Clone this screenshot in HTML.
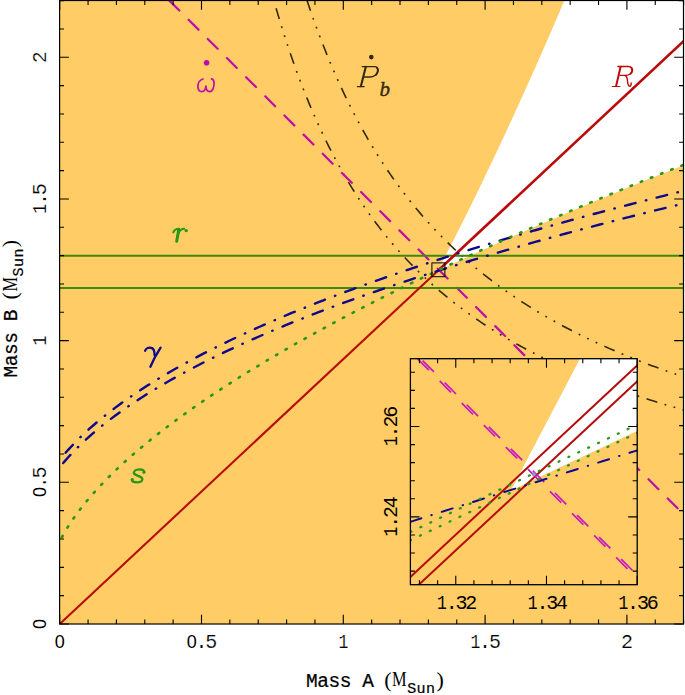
<!DOCTYPE html>
<html><head><meta charset="utf-8"><title>Mass-mass diagram</title>
<style>
html,body{margin:0;padding:0;background:#fff;}
body{width:685px;height:695px;overflow:hidden;}
svg{display:block;}
text{font-family:"Liberation Sans",sans-serif;}
.d{font-family:"Liberation Mono",monospace;font-size:20px;text-anchor:middle;fill:#000;stroke:#fff;stroke-width:0.18px;}
.z{font-family:"Liberation Sans",sans-serif;font-size:18px;text-anchor:middle;fill:#000;}
.o{stroke:none !important;}
.mono{font-family:"Liberation Mono",monospace;stroke:#000;stroke-width:0.22px;}
.ser{font-family:"Liberation Serif",serif;}
</style></head><body>
<svg width="685" height="695" viewBox="0 0 685 695">
<defs>
<clipPath id="cm"><rect x="59.6" y="0.5" width="623.9" height="623.5"/></clipPath>
<clipPath id="ci"><rect x="410.4" y="358.7" width="226.80000000000007" height="226.00000000000006"/></clipPath>
</defs>
<rect x="0" y="0" width="685" height="695" fill="#fff"/>
<!-- main plot -->
<g clip-path="url(#cm)">
<rect x="59.6" y="0.5" width="623.9" height="623.5" fill="#ffcc66"/>
<path d="M437.49 271.00 L439.85 266.49 L442.21 261.99 L444.55 257.48 L446.88 252.97 L449.20 248.47 L451.51 243.96 L453.81 239.46 L456.10 234.95 L458.38 230.44 L460.65 225.94 L462.92 221.43 L465.17 216.92 L467.41 212.42 L469.64 207.91 L471.87 203.41 L474.08 198.90 L476.29 194.39 L478.49 189.89 L480.67 185.38 L482.85 180.88 L485.03 176.37 L487.19 171.86 L489.35 167.36 L491.50 162.85 L493.64 158.34 L495.77 153.84 L497.89 149.33 L500.01 144.83 L502.12 140.32 L504.22 135.81 L506.32 131.31 L508.41 126.80 L510.49 122.30 L512.56 117.79 L514.63 113.28 L516.69 108.78 L518.74 104.27 L520.79 99.76 L522.83 95.26 L524.86 90.75 L526.89 86.25 L528.91 81.74 L530.93 77.23 L532.94 72.73 L534.94 68.22 L536.93 63.72 L538.92 59.21 L540.91 54.70 L542.89 50.20 L544.86 45.69 L546.83 41.19 L548.79 36.68 L550.74 32.17 L552.69 27.67 L554.64 23.16 L556.58 18.65 L558.51 14.15 L560.44 9.64 L562.36 5.14 L564.28 0.63 L683.62 0.63 L683.62 165.27 L679.52 166.88 L675.42 168.50 L671.31 170.13 L667.21 171.76 L663.11 173.39 L659.01 175.03 L654.90 176.67 L650.80 178.31 L646.70 179.96 L642.60 181.62 L638.50 183.28 L634.39 184.94 L630.29 186.61 L626.19 188.28 L622.09 189.95 L617.98 191.64 L613.88 193.32 L609.78 195.01 L605.68 196.71 L601.58 198.41 L597.47 200.11 L593.37 201.82 L589.27 203.53 L585.17 205.25 L581.07 206.98 L576.96 208.71 L572.86 210.44 L568.76 212.18 L564.66 213.92 L560.55 215.67 L556.45 217.43 L552.35 219.19 L548.25 220.96 L544.15 222.73 L540.04 224.51 L535.94 226.29 L531.84 228.08 L527.74 229.87 L523.63 231.68 L519.53 233.48 L515.43 235.29 L511.33 237.11 L507.23 238.94 L503.12 240.77 L499.02 242.61 L494.92 244.45 L490.82 246.30 L486.71 248.16 L482.61 250.02 L478.51 251.90 L474.41 253.77 L470.31 255.66 L466.20 257.55 L462.10 259.45 L458.00 261.35 L453.90 263.27 L449.79 265.19 L445.69 267.12 L441.59 269.05 L437.49 271.00 Z" fill="#fff"/>
<!-- Pb dot -->
<path d="M270.98 -9.96 L273.12 -2.23 L275.25 5.30 L277.38 12.64 L279.52 19.81 L281.65 26.79 L283.79 33.61 L285.92 40.26 L288.05 46.76 L290.19 53.10 L292.32 59.30 L294.46 65.35 L296.59 71.26 L298.73 77.04 L300.86 82.70 L302.99 88.22 L305.13 93.62 L307.26 98.91 L309.40 104.08 L311.53 109.14 L313.66 114.10 L315.80 118.95 L317.93 123.69 L320.07 128.34 L322.20 132.90 L324.33 137.36 L326.47 141.74 L328.60 146.02 L330.74 150.23 L332.87 154.35 L335.00 158.39 L337.14 162.35 L339.27 166.24 L341.41 170.05 L343.54 173.79 L345.68 177.46 L347.81 181.07 L349.94 184.61 L352.08 188.08 L354.21 191.50 L356.35 194.85 L358.48 198.14 L360.61 201.37 L362.75 204.55 L364.88 207.68 L367.02 210.75 L369.15 213.77 L371.28 216.73 L373.42 219.65 L375.55 222.52 L377.69 225.34 L379.82 228.12 L381.95 230.85 L384.09 233.54 L386.22 236.18 L388.36 238.79 L390.49 241.35 L392.63 243.87 L394.76 246.35 L396.89 248.80 L399.03 251.21 L401.16 253.58 L403.30 255.91 L405.43 258.21 L407.56 260.48 L409.70 262.72 L411.83 264.92 L413.97 267.09 L416.10 269.22 L418.23 271.33 L420.37 273.41 L422.50 275.46 L424.64 277.48 L426.77 279.47 L428.90 281.43 L431.04 283.37 L433.17 285.28 L435.31 287.17 L437.44 289.03 L439.58 290.87 L441.71 292.68 L443.84 294.46 L445.98 296.23 L448.11 297.97 L450.25 299.69 L452.38 301.39 L454.51 303.06 L456.65 304.72 L458.78 306.35 L460.92 307.96 L463.05 309.56 L465.18 311.13 L467.32 312.68 L469.45 314.22 L471.59 315.74 L473.72 317.24 L475.85 318.72 L477.99 320.18 L480.12 321.63 L482.26 323.06 L484.39 324.47 L486.53 325.87 L488.66 327.25 L490.79 328.61 L492.93 329.96 L495.06 331.30 L497.20 332.62 L499.33 333.92 L501.46 335.21 L503.60 336.49 L505.73 337.75 L507.87 339.00 L510.00 340.23 L512.13 341.45 L514.27 342.66 L516.40 343.86 L518.54 345.04 L520.67 346.21 L522.80 347.37 L524.94 348.52 L527.07 349.65 L529.21 350.78 L531.34 351.89 L533.48 352.99 L535.61 354.08 L537.74 355.16 L539.88 356.22 L542.01 357.28 L544.15 358.33 L546.28 359.36 L548.41 360.39 L550.55 361.41 L552.68 362.41 L554.82 363.41 L556.95 364.40 L559.08 365.38 L561.22 366.34 L563.35 367.30 L565.49 368.25 L567.62 369.20 L569.75 370.13 L571.89 371.05 L574.02 371.97 L576.16 372.88 L578.29 373.78 L580.43 374.67 L582.56 375.55 L584.69 376.43 L586.83 377.30 L588.96 378.16 L591.10 379.01 L593.23 379.85 L595.36 380.69 L597.50 381.52 L599.63 382.35 L601.77 383.16 L603.90 383.97 L606.03 384.77 L608.17 385.57 L610.30 386.36 L612.44 387.14 L614.57 387.92 L616.70 388.69 L618.84 389.45 L620.97 390.21 L623.11 390.96 L625.24 391.70 L627.38 392.44 L629.51 393.17 L631.64 393.90 L633.78 394.62 L635.91 395.33 L638.05 396.04 L640.18 396.75 L642.31 397.45 L644.45 398.14 L646.58 398.83 L648.72 399.51 L650.85 400.19 L652.98 400.86 L655.12 401.53 L657.25 402.19 L659.39 402.84 L661.52 403.50 L663.65 404.14 L665.79 404.78 L667.92 405.42 L670.06 406.05 L672.19 406.68 L674.33 407.31 L676.46 407.92 L678.59 408.54 L680.73 409.15 L682.86 409.75 L685.00 410.35 L687.13 410.95 L689.26 411.54 L691.40 412.13 L693.53 412.72 L695.67 413.30 L697.80 413.87" stroke="#32280f" stroke-width="1.6" fill="none" stroke-dasharray="11.2 7.6 1.8 7.6 1.8 7.6 1.8 7.8" stroke-dashoffset="-18.9"/>
<path d="M303.60 -9.96 L305.57 -3.90 L307.54 2.04 L309.51 7.86 L311.48 13.56 L313.45 19.15 L315.42 24.63 L317.39 30.01 L319.36 35.28 L321.34 40.45 L323.31 45.52 L325.28 50.50 L327.25 55.39 L329.22 60.18 L331.19 64.89 L333.16 69.51 L335.13 74.05 L337.10 78.51 L339.07 82.88 L341.05 87.18 L343.02 91.41 L344.99 95.56 L346.96 99.64 L348.93 103.65 L350.90 107.59 L352.87 111.47 L354.84 115.28 L356.81 119.03 L358.78 122.72 L360.76 126.34 L362.73 129.91 L364.70 133.42 L366.67 136.87 L368.64 140.27 L370.61 143.61 L372.58 146.91 L374.55 150.15 L376.52 153.34 L378.49 156.48 L380.47 159.58 L382.44 162.63 L384.41 165.63 L386.38 168.58 L388.35 171.50 L390.32 174.37 L392.29 177.20 L394.26 179.99 L396.23 182.73 L398.20 185.44 L400.18 188.11 L402.15 190.74 L404.12 193.34 L406.09 195.90 L408.06 198.42 L410.03 200.91 L412.00 203.37 L413.97 205.79 L415.94 208.18 L417.92 210.54 L419.89 212.86 L421.86 215.16 L423.83 217.42 L425.80 219.66 L427.77 221.86 L429.74 224.04 L431.71 226.19 L433.68 228.32 L435.65 230.41 L437.63 232.48 L439.60 234.53 L441.57 236.54 L443.54 238.54 L445.51 240.51 L447.48 242.45 L449.45 244.37 L451.42 246.27 L453.39 248.15 L455.36 250.00 L457.34 251.83 L459.31 253.64 L461.28 255.43 L463.25 257.20 L465.22 258.95 L467.19 260.68 L469.16 262.38 L471.13 264.07 L473.10 265.74 L475.07 267.39 L477.05 269.03 L479.02 270.64 L480.99 272.24 L482.96 273.82 L484.93 275.38 L486.90 276.92 L488.87 278.45 L490.84 279.96 L492.81 281.46 L494.78 282.94 L496.76 284.40 L498.73 285.85 L500.70 287.29 L502.67 288.71 L504.64 290.11 L506.61 291.50 L508.58 292.88 L510.55 294.24 L512.52 295.59 L514.50 296.92 L516.47 298.24 L518.44 299.55 L520.41 300.85 L522.38 302.13 L524.35 303.40 L526.32 304.66 L528.29 305.90 L530.26 307.14 L532.23 308.36 L534.21 309.57 L536.18 310.77 L538.15 311.96 L540.12 313.13 L542.09 314.30 L544.06 315.45 L546.03 316.60 L548.00 317.73 L549.97 318.85 L551.94 319.96 L553.92 321.07 L555.89 322.16 L557.86 323.24 L559.83 324.32 L561.80 325.38 L563.77 326.43 L565.74 327.48 L567.71 328.52 L569.68 329.54 L571.65 330.56 L573.63 331.57 L575.60 332.57 L577.57 333.56 L579.54 334.55 L581.51 335.52 L583.48 336.49 L585.45 337.45 L587.42 338.40 L589.39 339.34 L591.36 340.28 L593.34 341.20 L595.31 342.12 L597.28 343.04 L599.25 343.94 L601.22 344.84 L603.19 345.73 L605.16 346.61 L607.13 347.49 L609.10 348.36 L611.08 349.22 L613.05 350.08 L615.02 350.93 L616.99 351.77 L618.96 352.60 L620.93 353.43 L622.90 354.26 L624.87 355.07 L626.84 355.88 L628.81 356.69 L630.79 357.49 L632.76 358.28 L634.73 359.06 L636.70 359.85 L638.67 360.62 L640.64 361.39 L642.61 362.15 L644.58 362.91 L646.55 363.66 L648.52 364.41 L650.50 365.15 L652.47 365.89 L654.44 366.62 L656.41 367.34 L658.38 368.06 L660.35 368.78 L662.32 369.49 L664.29 370.19 L666.26 370.89 L668.23 371.59 L670.21 372.28 L672.18 372.96 L674.15 373.64 L676.12 374.32 L678.09 374.99 L680.06 375.66 L682.03 376.32 L684.00 376.98 L685.97 377.63 L687.94 378.28 L689.92 378.93 L691.89 379.57 L693.86 380.20 L695.83 380.83 L697.80 381.46" stroke="#32280f" stroke-width="1.6" fill="none" stroke-dasharray="11.2 7.6 1.8 7.6 1.8 7.6 1.8 7.8" stroke-dashoffset="-10.6"/>
<!-- omega dot -->
<path d="M158.96 -9.85 L697.80 528.51" stroke="#be0ca8" stroke-width="2.2" fill="none" stroke-linecap="round" stroke-dasharray="14 13.09" stroke-dashoffset="-14.8"/>
<!-- r lines -->
<path d="M59.6 255.8 H683.5 M59.6 288.0 H683.5" stroke="#3c8a08" stroke-width="2.0" fill="none"/>
<!-- R -->
<path d="M59.70 624.00 L441.14 267.66" stroke="#b60b06" stroke-width="2.05" fill="none"/>
<path d="M439.72 268.98 L711.98 14.65" stroke="#ba0a08" stroke-width="2.65" fill="none"/>
<!-- gamma -->
<path d="M59.70 467.25 L63.95 462.11 L68.21 457.27 L72.46 452.69 L76.72 448.34 L80.97 444.18 L85.22 440.19 L89.48 436.35 L93.73 432.65 L97.99 429.07 L102.24 425.61 L106.49 422.24 L110.75 418.98 L115.00 415.79 L119.26 412.70 L123.51 409.67 L127.76 406.72 L132.02 403.83 L136.27 401.01 L140.53 398.24 L144.78 395.53 L149.03 392.88 L153.29 390.27 L157.54 387.71 L161.80 385.19 L166.05 382.72 L170.30 380.28 L174.56 377.89 L178.81 375.53 L183.07 373.21 L187.32 370.92 L191.57 368.67 L195.83 366.45 L200.08 364.25 L204.34 362.09 L208.59 359.96 L212.84 357.85 L217.10 355.77 L221.35 353.71 L225.61 351.68 L229.86 349.68 L234.11 347.69 L238.37 345.73 L242.62 343.79 L246.88 341.87 L251.13 339.97 L255.38 338.09 L259.64 336.23 L263.89 334.39 L268.15 332.57 L272.40 330.77 L276.65 328.98 L280.91 327.21 L285.16 325.45 L289.42 323.72 L293.67 321.99 L297.92 320.29 L302.18 318.59 L306.43 316.92 L310.69 315.25 L314.94 313.60 L319.19 311.97 L323.45 310.34 L327.70 308.73 L331.96 307.14 L336.21 305.55 L340.46 303.98 L344.72 302.42 L348.97 300.87 L353.23 299.33 L357.48 297.81 L361.73 296.29 L365.99 294.79 L370.24 293.30 L374.50 291.81 L378.75 290.34 L383.00 288.88 L387.26 287.43 L391.51 285.98 L395.77 284.55 L400.02 283.13 L404.27 281.71 L408.53 280.30 L412.78 278.91 L417.04 277.52 L421.29 276.14 L425.54 274.77 L429.80 273.41 L434.05 272.05 L438.31 270.70 L442.56 269.37 L446.81 268.03 L451.07 266.71 L455.32 265.40 L459.58 264.09 L463.83 262.79 L468.08 261.49 L472.34 260.21 L476.59 258.93 L480.85 257.65 L485.10 256.39 L489.35 255.13 L493.61 253.88 L497.86 252.63 L502.12 251.39 L506.37 250.16 L510.62 248.93 L514.88 247.71 L519.13 246.50 L523.39 245.29 L527.64 244.09 L531.89 242.89 L536.15 241.70 L540.40 240.52 L544.66 239.34 L548.91 238.16 L553.16 236.99 L557.42 235.83 L561.67 234.67 L565.93 233.52 L570.18 232.38 L574.43 231.23 L578.69 230.10 L582.94 228.97 L587.20 227.84 L591.45 226.72 L595.70 225.60 L599.96 224.49 L604.21 223.39 L608.47 222.28 L612.72 221.19 L616.97 220.09 L621.23 219.01 L625.48 217.92 L629.74 216.84 L633.99 215.77 L638.24 214.70 L642.50 213.63 L646.75 212.57 L651.01 211.51 L655.26 210.46 L659.51 209.41 L663.77 208.37 L668.02 207.33 L672.28 206.29 L676.53 205.26 L680.78 204.23 L685.04 203.20 L689.29 202.18 L693.55 201.17 L697.80 200.15" stroke="#10088c" stroke-width="2.4" fill="none" stroke-linecap="round" stroke-dasharray="10.8 10.625 0.5 10.625" stroke-dashoffset="-5.55"/>
<path d="M59.70 459.83 L63.95 454.68 L68.21 449.83 L72.46 445.22 L76.72 440.83 L80.97 436.64 L85.22 432.61 L89.48 428.72 L93.73 424.98 L97.99 421.35 L102.24 417.84 L106.49 414.43 L110.75 411.12 L115.00 407.89 L119.26 404.74 L123.51 401.67 L127.76 398.66 L132.02 395.73 L136.27 392.86 L140.53 390.04 L144.78 387.28 L149.03 384.58 L153.29 381.92 L157.54 379.31 L161.80 376.75 L166.05 374.23 L170.30 371.75 L174.56 369.30 L178.81 366.90 L183.07 364.53 L187.32 362.20 L191.57 359.90 L195.83 357.63 L200.08 355.40 L204.34 353.19 L208.59 351.01 L212.84 348.86 L217.10 346.73 L221.35 344.63 L225.61 342.56 L229.86 340.51 L234.11 338.48 L238.37 336.48 L242.62 334.50 L246.88 332.54 L251.13 330.59 L255.38 328.67 L259.64 326.77 L263.89 324.89 L268.15 323.03 L272.40 321.18 L276.65 319.36 L280.91 317.55 L285.16 315.75 L289.42 313.97 L293.67 312.21 L297.92 310.47 L302.18 308.74 L306.43 307.02 L310.69 305.32 L314.94 303.63 L319.19 301.96 L323.45 300.30 L327.70 298.65 L331.96 297.01 L336.21 295.39 L340.46 293.78 L344.72 292.19 L348.97 290.60 L353.23 289.03 L357.48 287.47 L361.73 285.92 L365.99 284.38 L370.24 282.85 L374.50 281.33 L378.75 279.82 L383.00 278.32 L387.26 276.84 L391.51 275.36 L395.77 273.89 L400.02 272.43 L404.27 270.98 L408.53 269.54 L412.78 268.11 L417.04 266.69 L421.29 265.28 L425.54 263.87 L429.80 262.47 L434.05 261.09 L438.31 259.71 L442.56 258.34 L446.81 256.97 L451.07 255.62 L455.32 254.27 L459.58 252.93 L463.83 251.59 L468.08 250.27 L472.34 248.95 L476.59 247.64 L480.85 246.33 L485.10 245.04 L489.35 243.75 L493.61 242.46 L497.86 241.19 L502.12 239.92 L506.37 238.65 L510.62 237.40 L514.88 236.14 L519.13 234.90 L523.39 233.66 L527.64 232.43 L531.89 231.20 L536.15 229.98 L540.40 228.77 L544.66 227.56 L548.91 226.35 L553.16 225.16 L557.42 223.96 L561.67 222.78 L565.93 221.60 L570.18 220.42 L574.43 219.25 L578.69 218.08 L582.94 216.92 L587.20 215.77 L591.45 214.62 L595.70 213.47 L599.96 212.33 L604.21 211.20 L608.47 210.07 L612.72 208.94 L616.97 207.82 L621.23 206.71 L625.48 205.60 L629.74 204.49 L633.99 203.39 L638.24 202.29 L642.50 201.19 L646.75 200.11 L651.01 199.02 L655.26 197.94 L659.51 196.86 L663.77 195.79 L668.02 194.72 L672.28 193.66 L676.53 192.60 L680.78 191.55 L685.04 190.49 L689.29 189.45 L693.55 188.40 L697.80 187.36" stroke="#10088c" stroke-width="2.4" fill="none" stroke-linecap="round" stroke-dasharray="10.8 10.625 0.5 10.625" stroke-dashoffset="-9.2"/>
<!-- s -->
<path d="M59.70 541.37 L63.95 533.44 L68.21 526.36 L72.46 519.89 L76.72 513.89 L80.97 508.25 L85.22 502.91 L89.48 497.82 L93.73 492.94 L97.99 488.25 L102.24 483.72 L106.49 479.34 L110.75 475.08 L115.00 470.95 L119.26 466.92 L123.51 462.99 L127.76 459.15 L132.02 455.39 L136.27 451.70 L140.53 448.09 L144.78 444.55 L149.03 441.07 L153.29 437.65 L157.54 434.28 L161.80 430.97 L166.05 427.71 L170.30 424.49 L174.56 421.32 L178.81 418.19 L183.07 415.10 L187.32 412.05 L191.57 409.04 L195.83 406.06 L200.08 403.12 L204.34 400.21 L208.59 397.33 L212.84 394.48 L217.10 391.66 L221.35 388.87 L225.61 386.11 L229.86 383.37 L234.11 380.66 L238.37 377.97 L242.62 375.31 L246.88 372.67 L251.13 370.05 L255.38 367.45 L259.64 364.87 L263.89 362.32 L268.15 359.78 L272.40 357.27 L276.65 354.77 L280.91 352.29 L285.16 349.83 L289.42 347.38 L293.67 344.95 L297.92 342.54 L302.18 340.15 L306.43 337.77 L310.69 335.40 L314.94 333.05 L319.19 330.72 L323.45 328.40 L327.70 326.09 L331.96 323.80 L336.21 321.52 L340.46 319.25 L344.72 317.00 L348.97 314.76 L353.23 312.53 L357.48 310.31 L361.73 308.11 L365.99 305.91 L370.24 303.73 L374.50 301.56 L378.75 299.40 L383.00 297.25 L387.26 295.12 L391.51 292.99 L395.77 290.87 L400.02 288.76 L404.27 286.66 L408.53 284.58 L412.78 282.50 L417.04 280.43 L421.29 278.37 L425.54 276.32 L429.80 274.28 L434.05 272.24 L438.31 270.22 L442.56 268.20 L446.81 266.19 L451.07 264.20 L455.32 262.20 L459.58 260.22 L463.83 258.25 L468.08 256.28 L472.34 254.32 L476.59 252.37 L480.85 250.42 L485.10 248.48 L489.35 246.55 L493.61 244.63 L497.86 242.71 L502.12 240.80 L506.37 238.90 L510.62 237.01 L514.88 235.12 L519.13 233.24 L523.39 231.36 L527.64 229.49 L531.89 227.63 L536.15 225.77 L540.40 223.92 L544.66 222.08 L548.91 220.24 L553.16 218.41 L557.42 216.58 L561.67 214.76 L565.93 212.94 L570.18 211.14 L574.43 209.33 L578.69 207.53 L582.94 205.74 L587.20 203.95 L591.45 202.17 L595.70 200.40 L599.96 198.63 L604.21 196.86 L608.47 195.10 L612.72 193.34 L616.97 191.59 L621.23 189.85 L625.48 188.11 L629.74 186.37 L633.99 184.64 L638.24 182.91 L642.50 181.19 L646.75 179.48 L651.01 177.76 L655.26 176.06 L659.51 174.35 L663.77 172.66 L668.02 170.96 L672.28 169.27 L676.53 167.59 L680.78 165.91 L685.04 164.23 L689.29 162.56 L693.55 160.89 L697.80 159.22" stroke="#2a9614" stroke-width="2.6" fill="none" stroke-linecap="round" stroke-dasharray="1.5 9.422" stroke-dashoffset="-4.8"/>
<!-- little square -->
<rect x="431.9" y="262.9" width="13" height="13.8" fill="none" stroke="#000" stroke-width="1"/>
</g>
<path d="M59.70 624.00 v-9.30 M59.70 0.50 v9.30 M59.60 624.00 h9.30 M683.50 624.00 h-9.30 M88.06 624.00 v-4.40 M88.06 0.50 v4.40 M59.60 595.66 h4.40 M683.50 595.66 h-4.40 M116.42 624.00 v-4.40 M116.42 0.50 v4.40 M59.60 567.33 h4.40 M683.50 567.33 h-4.40 M144.78 624.00 v-4.40 M144.78 0.50 v4.40 M59.60 539.00 h4.40 M683.50 539.00 h-4.40 M173.14 624.00 v-4.40 M173.14 0.50 v4.40 M59.60 510.66 h4.40 M683.50 510.66 h-4.40 M201.50 624.00 v-9.30 M201.50 0.50 v9.30 M59.60 482.32 h9.30 M683.50 482.32 h-9.30 M229.86 624.00 v-4.40 M229.86 0.50 v4.40 M59.60 453.99 h4.40 M683.50 453.99 h-4.40 M258.22 624.00 v-4.40 M258.22 0.50 v4.40 M59.60 425.65 h4.40 M683.50 425.65 h-4.40 M286.58 624.00 v-4.40 M286.58 0.50 v4.40 M59.60 397.32 h4.40 M683.50 397.32 h-4.40 M314.94 624.00 v-4.40 M314.94 0.50 v4.40 M59.60 368.99 h4.40 M683.50 368.99 h-4.40 M343.30 624.00 v-9.30 M343.30 0.50 v9.30 M59.60 340.65 h9.30 M683.50 340.65 h-9.30 M371.66 624.00 v-4.40 M371.66 0.50 v4.40 M59.60 312.31 h4.40 M683.50 312.31 h-4.40 M400.02 624.00 v-4.40 M400.02 0.50 v4.40 M59.60 283.98 h4.40 M683.50 283.98 h-4.40 M428.38 624.00 v-4.40 M428.38 0.50 v4.40 M59.60 255.64 h4.40 M683.50 255.64 h-4.40 M456.74 624.00 v-4.40 M456.74 0.50 v4.40 M59.60 227.31 h4.40 M683.50 227.31 h-4.40 M485.10 624.00 v-9.30 M485.10 0.50 v9.30 M59.60 198.97 h9.30 M683.50 198.97 h-9.30 M513.46 624.00 v-4.40 M513.46 0.50 v4.40 M59.60 170.64 h4.40 M683.50 170.64 h-4.40 M541.82 624.00 v-4.40 M541.82 0.50 v4.40 M59.60 142.30 h4.40 M683.50 142.30 h-4.40 M570.18 624.00 v-4.40 M570.18 0.50 v4.40 M59.60 113.97 h4.40 M683.50 113.97 h-4.40 M598.54 624.00 v-4.40 M598.54 0.50 v4.40 M59.60 85.63 h4.40 M683.50 85.63 h-4.40 M626.90 624.00 v-9.30 M626.90 0.50 v9.30 M59.60 57.30 h9.30 M683.50 57.30 h-9.30 M655.26 624.00 v-4.40 M655.26 0.50 v4.40 M59.60 28.96 h4.40 M683.50 28.96 h-4.40 M683.62 624.00 v-4.40 M683.62 0.50 v4.40 M59.60 0.63 h4.40 M683.50 0.63 h-4.40" stroke="#000" stroke-width="1.1" fill="none"/>
<rect x="59.6" y="0.5" width="623.9" height="623.5" fill="none" stroke="#000" stroke-width="1.2"/>
<!-- inset -->
<g clip-path="url(#ci)">
<rect x="410.4" y="358.7" width="226.80000000000007" height="226.00000000000006" fill="#ffcc66"/>
<path d="M510.72 490.61 L512.48 487.28 L514.23 483.96 L515.99 480.63 L517.74 477.30 L519.49 473.97 L521.25 470.64 L523.00 467.31 L524.75 463.98 L526.51 460.66 L528.26 457.33 L530.01 454.00 L531.76 450.67 L533.51 447.34 L535.26 444.01 L537.01 440.68 L538.76 437.36 L540.51 434.03 L542.26 430.70 L544.01 427.37 L545.75 424.04 L547.50 420.71 L549.25 417.38 L551.00 414.06 L552.74 410.73 L554.49 407.40 L556.23 404.07 L557.98 400.74 L559.72 397.41 L561.47 394.08 L563.21 390.76 L564.96 387.43 L566.70 384.10 L568.44 380.77 L570.19 377.44 L571.93 374.11 L573.67 370.79 L575.41 367.46 L577.15 364.13 L578.89 360.80 L580.63 357.47 L582.37 354.14 L584.11 350.81 L585.85 347.49 L587.59 344.16 L589.33 340.83 L591.07 337.50 L592.80 334.17 L594.54 330.84 L596.28 327.51 L598.02 324.19 L599.75 320.86 L601.49 317.53 L603.22 314.20 L604.96 310.87 L606.69 307.54 L608.43 304.21 L610.16 300.89 L611.89 297.56 L613.63 294.23 L615.36 290.90 L682.56 290.90 L682.56 409.65 L679.70 411.00 L676.83 412.34 L673.97 413.68 L671.10 415.02 L668.24 416.37 L665.38 417.71 L662.51 419.06 L659.65 420.40 L656.78 421.74 L653.92 423.09 L651.06 424.43 L648.19 425.78 L645.33 427.12 L642.46 428.47 L639.60 429.81 L636.74 431.16 L633.87 432.51 L631.01 433.85 L628.14 435.20 L625.28 436.55 L622.42 437.89 L619.55 439.24 L616.69 440.59 L613.82 441.94 L610.96 443.28 L608.10 444.63 L605.23 445.98 L602.37 447.33 L599.51 448.68 L596.64 450.03 L593.78 451.38 L590.91 452.73 L588.05 454.08 L585.19 455.43 L582.32 456.78 L579.46 458.13 L576.59 459.48 L573.73 460.83 L570.87 462.18 L568.00 463.53 L565.14 464.88 L562.27 466.24 L559.41 467.59 L556.55 468.94 L553.68 470.29 L550.82 471.65 L547.95 473.00 L545.09 474.35 L542.23 475.71 L539.36 477.06 L536.50 478.41 L533.63 479.77 L530.77 481.12 L527.91 482.48 L525.04 483.83 L522.18 485.19 L519.31 486.54 L516.45 487.90 L513.59 489.26 L510.72 490.61 Z" fill="#fff"/>
<path d="M365.04 619.31 L682.56 323.03" stroke="#b40c0c" stroke-width="2" fill="none"/>
<path d="M365.04 634.73 L682.56 339.27" stroke="#b40c0c" stroke-width="2" fill="none"/>
<path d="M400 341.3 L660 601.3" stroke="#c818c0" stroke-width="1.7" fill="none" stroke-dasharray="16 15.2" stroke-dashoffset="-24.9"/>
<path d="M400 338.0 L660 598.0" stroke="#c818c0" stroke-width="1.7" fill="none" stroke-dasharray="16 15.2" stroke-dashoffset="-0.8"/>
<path d="M365.04 536.25 L380.92 531.18 L396.79 526.13 L412.67 521.08 L428.54 516.03 L444.42 511.00 L460.30 505.97 L476.17 500.95 L492.05 495.93 L507.92 490.92 L523.80 485.92 L539.68 480.93 L555.55 475.94 L571.43 470.96 L587.30 465.99 L603.18 461.02 L619.06 456.06 L634.93 451.11 L650.81 446.16 L666.68 441.22 L682.56 436.29" stroke="#10088c" stroke-width="2" fill="none" stroke-linecap="round" stroke-dasharray="11.4 10.45 0.5 10.45" stroke-dashoffset="-14.9"/>
<path d="M405.86 534.24 L419.70 527.65 L433.53 521.05 L447.37 514.47 L461.20 507.88 L475.04 501.31 L488.87 494.74 L502.71 488.17 L516.54 481.62 L530.38 475.06 L544.21 468.52 L558.05 461.97 L571.88 455.44 L585.72 448.91 L599.55 442.38 L613.39 435.86 L627.22 429.35 L641.06 422.84 L654.89 416.34 L668.73 409.84 L682.56 403.35" stroke="#2a9614" stroke-width="2.3" fill="none" stroke-linecap="round" stroke-dasharray="1 9.92" stroke-dashoffset="-5.2"/>
<path d="M405.86 542.45 L419.70 535.86 L433.53 529.27 L447.37 522.70 L461.20 516.12 L475.04 509.55 L488.87 502.99 L502.71 496.43 L516.54 489.88 L530.38 483.34 L544.21 476.80 L558.05 470.26 L571.88 463.73 L585.72 457.21 L599.55 450.69 L613.39 444.18 L627.22 437.67 L641.06 431.17 L654.89 424.68 L668.73 418.19 L682.56 411.70" stroke="#2a9614" stroke-width="2.3" fill="none" stroke-linecap="round" stroke-dasharray="1 9.92" stroke-dashoffset="-4.7"/>
<rect x="532.6" y="472.4" width="3" height="3.4" fill="#7d9fd6"/>
</g>
<path d="M419.47 584.70 v-4.50 M419.47 358.70 v4.50 M437.62 584.70 v-4.50 M437.62 358.70 v4.50 M455.76 584.70 v-9.00 M455.76 358.70 v9.00 M473.90 584.70 v-4.50 M473.90 358.70 v4.50 M492.05 584.70 v-4.50 M492.05 358.70 v4.50 M510.19 584.70 v-4.50 M510.19 358.70 v4.50 M528.34 584.70 v-4.50 M528.34 358.70 v4.50 M546.48 584.70 v-9.00 M546.48 358.70 v9.00 M564.62 584.70 v-4.50 M564.62 358.70 v4.50 M582.77 584.70 v-4.50 M582.77 358.70 v4.50 M600.91 584.70 v-4.50 M600.91 358.70 v4.50 M619.06 584.70 v-4.50 M619.06 358.70 v4.50 M637.20 584.70 v-9.00 M637.20 358.70 v9.00 M410.40 571.14 h4.50 M637.20 571.14 h-4.50 M410.40 553.06 h4.50 M637.20 553.06 h-4.50 M410.40 534.98 h4.50 M637.20 534.98 h-4.50 M410.40 516.90 h9.00 M637.20 516.90 h-9.00 M410.40 498.82 h4.50 M637.20 498.82 h-4.50 M410.40 480.74 h4.50 M637.20 480.74 h-4.50 M410.40 462.66 h4.50 M637.20 462.66 h-4.50 M410.40 444.58 h4.50 M637.20 444.58 h-4.50 M410.40 426.50 h9.00 M637.20 426.50 h-9.00 M410.40 408.42 h4.50 M637.20 408.42 h-4.50 M410.40 390.34 h4.50 M637.20 390.34 h-4.50 M410.40 372.26 h4.50 M637.20 372.26 h-4.50" stroke="#000" stroke-width="1.1" fill="none"/>
<rect x="410.4" y="358.7" width="226.80000000000007" height="226.00000000000006" fill="none" stroke="#000" stroke-width="1.3"/>
<!-- tick labels -->
<text class="z" transform="translate(59.70 648)">0</text><text class="z" transform="translate(191.70 648)">0</text><text class="d" transform="translate(201.50 648)">.</text><text class="d" transform="translate(211.30 648)">5</text><text class="d" transform="translate(343.30 648) scale(0.82 1)">1</text><text class="d" transform="translate(475.30 648) scale(0.82 1)">1</text><text class="d" transform="translate(485.10 648)">.</text><text class="d" transform="translate(494.90 648)">5</text><text class="d" transform="translate(626.90 648)">2</text>
<text class="z" transform="translate(46 624.00) rotate(-90)">0</text><text class="z" transform="translate(46 492.12) rotate(-90)">0</text><text class="d" transform="translate(46 482.32) rotate(-90)">.</text><text class="d" transform="translate(46 472.52) rotate(-90)">5</text><text class="d" transform="translate(46 340.65) rotate(-90) scale(0.82 1)">1</text><text class="d" transform="translate(46 208.77) rotate(-90) scale(0.82 1)">1</text><text class="d" transform="translate(46 198.97) rotate(-90)">.</text><text class="d" transform="translate(46 189.17) rotate(-90)">5</text><text class="d" transform="translate(46 57.30) rotate(-90)">2</text>
<text class="d o" transform="translate(441.86 609.2) scale(0.82 1)">1</text><text class="d o" transform="translate(451.66 609.2)">.</text><text class="d o" transform="translate(461.46 609.2)">3</text><text class="d o" transform="translate(471.26 609.2)">2</text><text class="d o" transform="translate(532.58 609.2) scale(0.82 1)">1</text><text class="d o" transform="translate(542.38 609.2)">.</text><text class="d o" transform="translate(552.18 609.2)">3</text><text class="d o" transform="translate(561.98 609.2)">4</text><text class="d o" transform="translate(623.30 609.2) scale(0.82 1)">1</text><text class="d o" transform="translate(633.10 609.2)">.</text><text class="d o" transform="translate(642.90 609.2)">3</text><text class="d o" transform="translate(652.70 609.2)">6</text>
<text class="d o" transform="translate(397.3 531.60) rotate(-90) scale(0.82 1)">1</text><text class="d o" transform="translate(397.3 521.80) rotate(-90)">.</text><text class="d o" transform="translate(397.3 512.00) rotate(-90)">2</text><text class="d o" transform="translate(397.3 502.20) rotate(-90)">4</text><text class="d o" transform="translate(397.3 441.20) rotate(-90) scale(0.82 1)">1</text><text class="d o" transform="translate(397.3 431.40) rotate(-90)">.</text><text class="d o" transform="translate(397.3 421.60) rotate(-90)">2</text><text class="d o" transform="translate(397.3 411.80) rotate(-90)">6</text>
<!-- axis titles -->
<g transform="translate(306 686.8)"><text class="mono" x="0" y="0" style="font-size:19.5px" textLength="68" lengthAdjust="spacing">Mass A</text><text class="ser" x="78.2" y="-0.3" style="font-size:22px">(</text><text class="ser" x="86" y="-0.4" style="font-size:20.4px" textLength="14.6" lengthAdjust="spacingAndGlyphs">M</text><text class="mono" x="101.2" y="6.4" style="font-size:15px" textLength="27.8" lengthAdjust="spacing">Sun</text><text class="ser" x="130.4" y="-0.3" style="font-size:22px">)</text></g>
<g transform="translate(16.9 377.6) rotate(-90)"><text class="mono" x="0" y="0" style="font-size:19.5px" textLength="68" lengthAdjust="spacing">Mass B</text><text class="ser" x="78.2" y="-0.3" style="font-size:22px">(</text><text class="ser" x="86" y="-0.4" style="font-size:20.4px" textLength="14.6" lengthAdjust="spacingAndGlyphs">M</text><text class="mono" x="101.2" y="6.4" style="font-size:15px" textLength="27.8" lengthAdjust="spacing">Sun</text><text class="ser" x="130.4" y="-0.3" style="font-size:22px">)</text></g>
<!-- curve labels -->
<g fill="none" stroke="#2a9614" stroke-linecap="round">
<path d="M173.3 232.4 Q174.6 229.1 178.2 228.8" stroke-width="2"/>
<path d="M178.8 229.2 L176.7 241.2" stroke-width="3"/>
<path d="M178.6 233 Q180.5 228.7 184.2 228.7" stroke-width="2"/>
<circle cx="186.2" cy="230.6" r="1.7" fill="#2a9614" stroke="none"/>
<g transform="translate(138 476) skewX(-9) translate(-138 -476)"><path d="M143.6 472.2 C143 470 140.5 469.4 138.5 469.4 C135.5 469.4 133.3 470.8 133.3 472.6 C133.3 474.5 136 475 138 475.8 C140.5 476.6 142.9 477.5 142.9 479.5 C142.9 481.5 140.5 482.3 138 482.3 C135.5 482.3 133 481.5 132.4 479.6" stroke-width="2.3"/>
<circle cx="143.4" cy="472.3" r="1.5" fill="#2a9614" stroke="none"/>
<circle cx="132.8" cy="479.4" r="1.5" fill="#2a9614" stroke="none"/>
</g>
</g>
<g fill="none" stroke="#10088c" stroke-linecap="round" stroke-width="2.3">
<path d="M145.1 350.7 C145.8 348.2 149 346.8 152 348.1 C153.8 349 154.6 352 154.6 355.2"/>
<path d="M160.6 347.6 Q154.5 357 150.4 366.8"/>
</g>
<g fill="none" stroke="#be0ca8" stroke-linecap="round" stroke-width="1.7">
<path d="M203 79 C199.5 80 197.8 83.5 197.9 86.5 C198 89.5 199.5 91.6 201.8 91.6 C204 91.6 205.7 89 205.9 85.5 C206 89 207.5 91.6 209.8 91.6 C212.5 91.6 214.2 87 214.1 83 C214 80.8 213 79.3 211.6 78.9"/>
</g>
<circle cx="206.6" cy="62.7" r="2.8" fill="#be0ca8"/>
<g fill="none" stroke="#bc0c0a" stroke-linecap="round" stroke-linejoin="round">
<path d="M617.9 66.5 H628.3 C631 66.5 632.4 68.3 632.3 70.3 C632.1 73.3 629 75.4 625.2 75.4 H620" stroke-width="1.3"/>
<path d="M631.3 67.7 C632.6 69.4 632.3 72 630.5 73.7" stroke-width="1.9"/>
<path d="M620.6 66.7 L616.1 86.1" stroke-width="2"/>
<path d="M612.3 86.5 H619.8" stroke-width="1.2"/>
<path d="M625 75.5 C626.8 76.3 627.3 78.5 627.5 81 C627.8 84 628 86.2 629.6 86.2 C630.8 86.2 631.2 84.5 631.2 83" stroke-width="1.4"/>
</g>
<g fill="none" stroke="#32280f" stroke-linecap="round" stroke-linejoin="round">
<path d="M362.2 66.6 H374.5 C377 66.6 378 68.5 377.9 70.3 C377.7 74 374.5 77 370.5 77 H363.6" stroke-width="1.35"/>
<path d="M377 67.8 C378.3 69.6 377.9 72.6 376 74.9" stroke-width="1.9"/>
<path d="M365.8 66.8 L360.9 86.2" stroke-width="2.1"/>
<path d="M357.4 86.6 H364.2" stroke-width="1.25"/>
</g>
<text class="ser" x="379.5" y="96.3" style="font-size:21px;font-style:italic;fill:#32280f;stroke:#32280f;stroke-width:0.35px">b</text>
<circle cx="371.3" cy="57.1" r="2.3" fill="#32280f"/>
</svg>
</body></html>
